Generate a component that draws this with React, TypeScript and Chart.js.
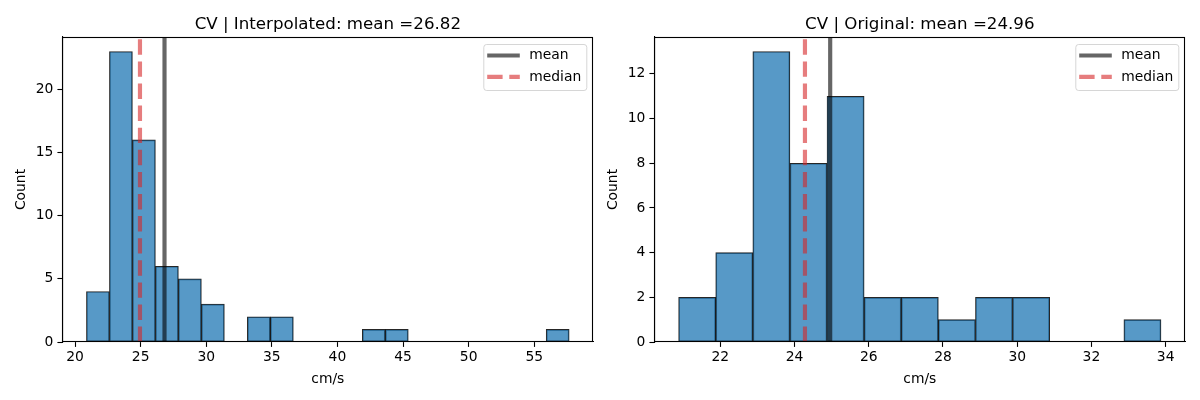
import React, { useEffect, useRef } from "react";
import { Chart, registerables } from "chart.js";

Chart.register(...registerables);

// ---------- Data: left panel (Interpolated) ----------
const interpTitle = "CV | Interpolated";
const interpBinStart = 20.87;
const interpBinWidth = 1.752;
const interpCounts = [4, 23, 16, 6, 5, 3, 0, 2, 2, 0, 0, 0, 1, 1, 0, 0, 0, 0, 0, 0, 1];
const interpMean = 26.82;
const interpMedian = 24.95;
const interpXMin = 19.03;
const interpXMax = 59.5;
const interpYMax = 24.15;
const interpXTicks = [20, 25, 30, 35, 40, 45, 50, 55];
const interpYTicks = [0, 5, 10, 15, 20];

// ---------- Data: right panel (Original) ----------
const origTitle = "CV | Original";
const origBinStart = 20.875;
const origBinWidth = 1.0;
const origCounts = [2, 4, 13, 8, 11, 2, 2, 1, 2, 2, 0, 0, 1];
const origMean = 24.96;
const origMedian = 24.28;
const origXMin = 20.22;
const origXMax = 34.53;
const origYMax = 13.65;
const origXTicks = [22, 24, 26, 28, 30, 32, 34];
const origYTicks = [0, 2, 4, 6, 8, 10, 12];

const xLabel = "cm/s";
const yLabel = "Count";
const legendLabels = ["mean", "median"];

const FONT = "DejaVu Sans";
const FS = 13.89;

type Panel = {
  title: string;
  binStart: number;
  binWidth: number;
  counts: number[];
  mean: number;
  median: number;
  xMin: number;
  xMax: number;
  yMax: number;
  xTicks: number[];
  yTicks: number[];
  yAxisWidth: number;
  padRight: number;
  yTitlePad: number;
};

const panels: Panel[] = [
  {
    title: interpTitle,
    binStart: interpBinStart,
    binWidth: interpBinWidth,
    counts: interpCounts,
    mean: interpMean,
    median: interpMedian,
    xMin: interpXMin,
    xMax: interpXMax,
    yMax: interpYMax,
    xTicks: interpXTicks,
    yTicks: interpYTicks,
    yAxisWidth: 62.3,
    padRight: 6.7,
    yTitlePad: 13,
  },
  {
    title: origTitle,
    binStart: origBinStart,
    binWidth: origBinWidth,
    counts: origCounts,
    mean: origMean,
    median: origMedian,
    xMin: origXMin,
    xMax: origXMax,
    yMax: origYMax,
    xTicks: origXTicks,
    yTicks: origYTicks,
    yAxisWidth: 54.3,
    padRight: 14.7,
    yTitlePad: 5,
  },
];

function makePlugins(p: Panel) {
  const framePlugin = {
    id: "frame",
    afterDatasetsDraw(chart: any) {
      const { ctx, chartArea } = chart;
      ctx.save();
      ctx.strokeStyle = "#000";
      ctx.lineWidth = 1.1;
      const l = Math.round(chartArea.left) + 0.5;
      const t = Math.round(chartArea.top) + 0.5;
      const r = Math.round(chartArea.right) - 0.5;
      const b = Math.round(chartArea.bottom) - 0.5;
      ctx.strokeRect(l, t, r - l, b - t);
      ctx.restore();
    },
  };
  const legendPlugin = {
    id: "innerLegend",
    afterDraw(chart: any) {
      const { ctx, chartArea } = chart;
      const items = chart.data.datasets.filter((d: any) => d.type === "line");
      const w = 103;
      const h = 46;
      const x0 = chartArea.right - 6.5 - w;
      const y0 = chartArea.top + 7.5;
      ctx.save();
      ctx.beginPath();
      const rr = 2.8;
      ctx.moveTo(x0 + rr, y0);
      ctx.arcTo(x0 + w, y0, x0 + w, y0 + h, rr);
      ctx.arcTo(x0 + w, y0 + h, x0, y0 + h, rr);
      ctx.arcTo(x0, y0 + h, x0, y0, rr);
      ctx.arcTo(x0, y0, x0 + w, y0, rr);
      ctx.closePath();
      ctx.fillStyle = "rgba(255,255,255,0.8)";
      ctx.fill();
      ctx.strokeStyle = "rgba(204,204,204,0.8)";
      ctx.lineWidth = 1;
      ctx.stroke();
      items.forEach((d: any, i: number) => {
        const cy = y0 + 11 + i * 21.4;
        ctx.beginPath();
        ctx.strokeStyle = d.borderColor;
        ctx.lineWidth = d.borderWidth;
        ctx.setLineDash(d.borderDash || []);
        ctx.lineCap = "butt";
        ctx.moveTo(x0 + 3.4, cy);
        ctx.lineTo(x0 + 36, cy);
        ctx.stroke();
        ctx.setLineDash([]);
        ctx.fillStyle = "#000";
        ctx.font = `${FS}px "${FONT}"`;
        ctx.textAlign = "left";
        ctx.textBaseline = "middle";
        ctx.fillText(d.label, x0 + 45.4, cy);
      });
      ctx.restore();
    },
  };
  const titlePlugin = {
    id: "axTitle",
    afterDraw(chart: any) {
      const { ctx, chartArea } = chart;
      ctx.save();
      ctx.fillStyle = "#000";
      ctx.font = `16.67px "${FONT}"`;
      ctx.textAlign = "center";
      ctx.textBaseline = "alphabetic";
      ctx.fillText(
        `${p.title}: mean =${p.mean.toFixed(2)}`,
        (chartArea.left + chartArea.right) / 2,
        chartArea.top - 8.3
      );
      ctx.restore();
    },
  };
  return [framePlugin, legendPlugin, titlePlugin];
}

function makeConfig(p: Panel): any {
  const centers = p.counts.map((_, i) => p.binStart + (i + 0.5) * p.binWidth);
  const tickFont = { family: FONT, size: FS };
  return {
    type: "bar",
    data: {
      datasets: [
        {
          type: "line",
          label: legendLabels[0],
          data: [
            { x: p.mean, y: 0 },
            { x: p.mean, y: p.yMax },
          ],
          borderColor: "rgba(0,0,0,0.6)",
          borderWidth: 4.17,
          pointRadius: 0,
          borderCapStyle: "butt",
          order: 2,
        },
        {
          type: "line",
          label: legendLabels[1],
          data: [
            { x: p.median, y: 0 },
            { x: p.median, y: p.yMax },
          ],
          borderColor: "rgba(214,39,40,0.6)",
          borderWidth: 4.17,
          borderDash: [15.4, 6.7],
          pointRadius: 0,
          borderCapStyle: "butt",
          order: 1,
        },
        {
          type: "bar",
          label: "hist",
          data: centers.map((x, i) => ({ x, y: p.counts[i] })),
          backgroundColor: "rgba(31,119,180,0.75)",
          borderColor: "rgba(0,0,0,0.85)",
          borderWidth: 1,
          borderSkipped: false,
          barPercentage: 1,
          categoryPercentage: 1,
          order: 3,
        },
      ],
    },
    options: {
      animation: false,
      responsive: false,
      maintainAspectRatio: false,
      events: [],
      layout: { padding: { top: 37, right: p.padRight, left: 0, bottom: 0 } },
      plugins: {
        legend: { display: false },
        tooltip: { enabled: false },
        title: { display: false },
      },
      scales: {
        x: {
          type: "linear",
          min: p.xMin,
          max: p.xMax,
          offset: false,
          afterBuildTicks: (s: any) => {
            s.ticks = p.xTicks.map((v) => ({ value: v }));
          },
          afterFit: (s: any) => {
            s.height = 58;
          },
          grid: {
            drawOnChartArea: false,
            drawTicks: true,
            tickLength: 4.9,
            tickWidth: 1.1,
            color: "#000",
            offset: false,
          },
          border: { display: true, color: "#000", width: 1.1 },
          ticks: {
            padding: 2,
            color: "#000",
            font: tickFont,
            maxRotation: 0,
            autoSkip: false,
            callback: (v: any) => String(v),
          },
          title: {
            display: true,
            text: xLabel,
            color: "#000",
            font: tickFont,
            padding: { top: 0, bottom: 12.7 },
          },
        },
        y: {
          type: "linear",
          min: 0,
          max: p.yMax,
          afterBuildTicks: (s: any) => {
            s.ticks = p.yTicks.map((v) => ({ value: v }));
          },
          afterFit: (s: any) => {
            s.width = p.yAxisWidth;
          },
          grid: {
            drawOnChartArea: false,
            drawTicks: true,
            tickLength: 4.9,
            tickWidth: 1.1,
            color: "#000",
          },
          border: { display: true, color: "#000", width: 1.1 },
          ticks: {
            padding: 4,
            color: "#000",
            font: tickFont,
            autoSkip: false,
            callback: (v: any) => String(v),
          },
          title: {
            display: true,
            text: yLabel,
            color: "#000",
            font: tickFont,
            padding: { top: p.yTitlePad, bottom: 0 },
          },
        },
      },
    },
    plugins: makePlugins(p),
  };
}

function HistPanel({ p }: { p: Panel }) {
  const ref = useRef<HTMLCanvasElement | null>(null);
  useEffect(() => {
    if (!ref.current) return;
    const chart = new Chart(ref.current, makeConfig(p));
    return () => chart.destroy();
  }, [p]);
  return (
    <canvas
      ref={ref}
      width={600}
      height={400}
      style={{ display: "block", width: 600, height: 400 }}
    />
  );
}

export default function App() {
  return (
    <div
      style={{
        position: "fixed",
        left: 0,
        top: 0,
        width: 1200,
        height: 400,
        background: "#fff",
        display: "flex",
      }}
    >
      {panels.map((p, i) => (
        <HistPanel key={i} p={p} />
      ))}
    </div>
  );
}
